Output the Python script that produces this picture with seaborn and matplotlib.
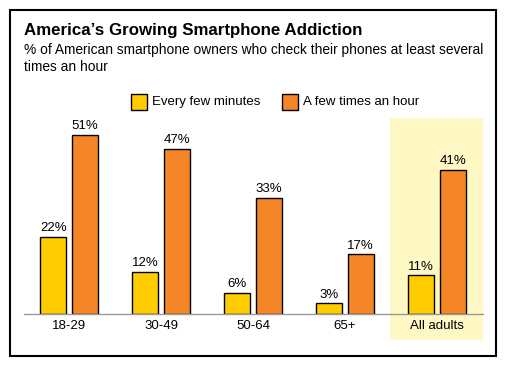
import pandas as pd
import matplotlib
import matplotlib.pyplot as plt
import seaborn as sns
from matplotlib.patches import Rectangle

matplotlib.use("Agg")

groups = ["18-29", "30-49", "50-64", "65+", "All adults"]
every_few_minutes = [22, 12, 6, 3, 11]
few_times_hour = [51, 47, 33, 17, 41]
series = ["Every few minutes", "A few times an hour"]
colors = ["#FFCC00", "#F58628"]

df = pd.DataFrame({
    "group": groups * 2,
    "pct": every_few_minutes + few_times_hour,
    "series": [series[0]] * len(groups) + [series[1]] * len(groups),
})

sns.set_style("white")
plt.rcParams["font.family"] = ["Liberation Sans", "DejaVu Sans"]
plt.rcParams["text.color"] = "black"
plt.rcParams["xtick.color"] = "black"

W, H = 507, 368
fig = plt.figure(figsize=(W / 100, H / 100), dpi=100)
ax = fig.add_axes([24 / W, (H - 314) / H, (483 - 24) / W, (314 - 121) / H])

# highlight behind "All adults"
ax.add_patch(Rectangle((3.49, -7.4), 1.01, 63.2, facecolor="#FFF8C4",
                       edgecolor="none", clip_on=False, zorder=0))

sns.barplot(data=df, x="group", y="pct", hue="series", palette=colors,
            saturation=1, width=0.685, gap=0.18, edgecolor="black", linewidth=1,
            legend=False, ax=ax, zorder=2)

for container in ax.containers:
    ax.bar_label(container, labels=[f"{v:.0f}%" for v in container.datavalues],
                 padding=2, fontsize=9.5, color="black")

ax.set_xlim(-0.49, 4.5)
ax.set_ylim(0, 55)
ax.set_xlabel("")
ax.set_ylabel("")
ax.set_yticks([])
ax.tick_params(axis="x", length=0, labelsize=9.5, pad=4, labelcolor="black")
for s in ["top", "right", "left"]:
    ax.spines[s].set_visible(False)
ax.spines["bottom"].set_color("#999999")
ax.spines["bottom"].set_linewidth(1)
ax.patch.set_alpha(0)

# title and subtitle
fig.text(24 / W, 1 - 30 / H, "America\u2019s Growing Smartphone Addiction",
         fontsize=12.2, fontweight="bold", va="center", ha="left")
fig.text(24 / W, 1 - 50 / H,
         "% of American smartphone owners who check their phones at least several",
         fontsize=9.9, va="center", ha="left")
fig.text(24 / W, 1 - 67 / H, "times an hour", fontsize=9.9, va="center", ha="left")

# legend
for x0, label, c in [(131, series[0], colors[0]), (282, series[1], colors[1])]:
    fig.patches.append(Rectangle((x0 / W, 1 - 110 / H), 16 / W, 16 / H,
                                 facecolor=c, edgecolor="black", linewidth=1,
                                 transform=fig.transFigure))
    fig.text((x0 + 21) / W, 1 - 102 / H, label, fontsize=9.5, va="center", ha="left")

# outer frame
fig.patches.append(Rectangle((10 / W, 1 - 356 / H), 486 / W, 346 / H,
                             facecolor="none", edgecolor="black", linewidth=1.5,
                             transform=fig.transFigure))

fig.savefig("out.png", dpi=100)
